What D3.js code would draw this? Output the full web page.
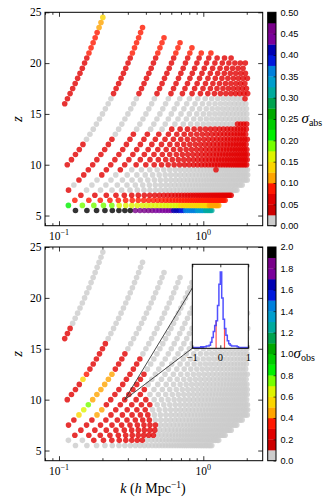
<!DOCTYPE html>
<html>
<head>
<meta charset="utf-8">
<script src="https://cdn.jsdelivr.net/npm/d3@7"></script>
<style>
  body { margin: 0; background: #fff; }
  svg { display: block; }
</style>
</head>
<body>
<div id="chart"></div>
<script>
// redshift rows of the (k, z) grid, the k spacing in each row and the first/last mode index
const zRows = [5.5, 6, 6.5, 7, 7.5, 8, 8.5, 9, 9.5, 10, 10.5, 11, 11.5, 12, 12.5, 13, 13.5,
  14, 14.5, 15, 15.5, 16, 16.5, 17, 17.5, 18, 18.5, 19, 19.5, 20, 20.5, 21, 21.5, 22, 22.5,
  23, 23.5, 24, 24.5];
const kStep = [0.02602, 0.02905, 0.0322, 0.03545, 0.03881, 0.04227, 0.04584, 0.04949, 0.05324,
  0.05708, 0.06101, 0.06503, 0.06913, 0.07331, 0.07758, 0.08192, 0.08635, 0.09085, 0.09542,
  0.10007, 0.1048, 0.1096, 0.11447, 0.11941, 0.12441, 0.12949, 0.13463, 0.13984, 0.14512,
  0.15046, 0.15586, 0.16133, 0.16686, 0.17245, 0.1781, 0.18382, 0.18959, 0.19542, 0.20131];
const nFirst = [5, 4, 4, 4, 3, 3, 3, 3, 3, 2, 2, 2, 2, 2, 2, 2, 2, 2, 2, 2, 2,
  1, 1, 1, 1, 1, 1, 1, 1, 1, 1, 1, 1, 1, 1, 1, 1, 1, 1];
const nLast = [44, 44, 44, 44, 44, 44, 44, 41, 38, 35, 33, 31, 29, 27, 26, 24, 23, 22, 21, 20, 19,
  18, 17, 17, 16, 15, 15, 14, 13, 13, 10, 7, 5, 4, 3, 2, 2, 1, 1];

// colour bin of each point, as [bin, count] runs from nFirst (missing = bin 0)
const sigmaAbsRuns = [
  [[19, 8], [18, 5], [17, 6], [16, 3], [15, 2], [14, 6], [13, 5], [12, 5]],
  [[8, 1], [7, 4], [6, 15], [5, 14], [4, 7]],
  [[3, 41]],
  [[2, 41]],
  [[2, 1]],
  [],
  [[2, 1]],
  [[2, 2]],
  [[2, 3], [0, 17], [2, 1]],
  [[2, 99]], [[2, 99]], [[2, 99]], [[2, 99]], [[2, 99]],
  [[0, 1], [2, 99]],
  [[0, 2], [2, 99]],
  [[0, 5], [2, 99]],
  [[0, 17], [2, 99]],
  [], [], [],
  [[2, 1]],
  [[2, 1], [0, 15], [2, 1]],
  [[2, 99]], [[2, 99]], [[2, 99]], [[2, 99]], [[2, 99]], [[2, 99]], [[2, 99]], [[2, 99]],
  [[3, 99]], [[3, 99]], [[3, 99]], [[3, 99]], [[3, 99]],
  [[4, 1], [3, 1]],
  [[4, 1]],
  [[5, 1]]
];
const sigmaObsRuns = [
  [],
  [[0, 2], [2, 8]],
  [[2, 11]],
  [[2, 10]],
  [[2, 10]],
  [[2, 8]],
  [[5, 1], [4, 1], [2, 5]],
  [[6, 1], [4, 1], [2, 4]],
  [[7, 1], [2, 5]],
  [[2, 1], [4, 1], [2, 4]],
  [[2, 1], [4, 1], [2, 3]],
  [[2, 1], [4, 1], [2, 3]],
  [[2, 1], [4, 1], [2, 2]],
  [[5, 1], [4, 1], [2, 2]],
  [[3, 1], [4, 1], [2, 2]],
  [[2, 3]], [[2, 3]], [[2, 3]],
  [[2, 2]],
  [[2, 1]], [[2, 1]], [[2, 1]], [[2, 1]], [[2, 1]],
  [], [], [], [], [], [], [], [], [], [], [], [], [], [], []
];

// discrete colour map (20 bins, lowest bin grey)
const binColors = ["#cccccc", "#cd0000", "#e10000", "#ff1800", "#ffa400", "#fad500", "#ddf300",
  "#76ff00", "#00f000", "#00cd00", "#00a900", "#00a34f", "#00aa9d", "#009ecd", "#0080dd",
  "#0019dd", "#0000b2", "#7a009b", "#780089", "#000000"];
const absTicks = [0, 0.05, 0.1, 0.15, 0.2, 0.25, 0.3, 0.35, 0.4, 0.45, 0.5];
const obsTicks = [0, 0.2, 0.4, 0.6, 0.8, 1.0, 1.2, 1.4, 1.6, 1.8, 2.0];
const zTicks = [5, 10, 15, 20, 25];
const kMajor = [0.1, 1];
const kMinor = [0.08, 0.09, 0.2, 0.3, 0.4, 0.5, 0.6, 0.7, 0.8, 0.9, 2];

// inset histogram
const histEdges = [-1, -0.95, -0.9, -0.85, -0.8, -0.75, -0.7, -0.65, -0.6, -0.55, -0.5, -0.45,
  -0.4, -0.35, -0.3, -0.25, -0.2, -0.15, -0.1, -0.05, 0, 0.05, 0.1, 0.15, 0.2, 0.25, 0.3, 0.35,
  0.4, 0.45, 0.5, 0.55, 0.6, 0.65, 0.7, 0.75, 0.8, 0.85, 0.9, 0.95, 1];
const histCounts = [1, 1, 1, 1, 1, 1, 2, 1, 2, 2, 3, 3, 4, 8, 14, 22, 30, 36, 56, 84, 100, 66,
  38, 26, 17, 10, 6, 4, 3, 3, 3, 3, 2, 1, 1, 1, 1, 1, 1, 1];
const histBand = [-0.15, 0.15];
const insetRow = 9, insetN = 5; // grid point the inset refers to

(function () {
  const W = 333, H = 504;
  const left = 45, right = 262.7;
  const cbX = 267.7, cbW = 8.3;
  const serif = "'Liberation Serif', 'DejaVu Serif', serif";
  const sans = "'Liberation Sans', Arial, sans-serif";

  const svg = d3.select("#chart").append("svg").attr("width", W).attr("height", H);
  svg.append("rect").attr("width", W).attr("height", H).attr("fill", "#fff");

  const x = d3.scaleLog().domain([0.08, 2.58]).range([left, right]);

  function buildPoints(runs) {
    const pts = [];
    zRows.forEach((z, i) => {
      const bins = [];
      runs[i].forEach(([b, c]) => { for (let j = 0; j < c; j++) bins.push(b); });
      for (let n = nFirst[i]; n <= nLast[i]; n++) {
        const b = bins[n - nFirst[i]];
        pts.push({ k: n * kStep[i], z: z, bin: b === undefined ? 0 : b });
      }
    });
    return pts.sort((a, b) => (a.bin > 0) - (b.bin > 0));
  }

  function drawPanel(cfg) {
    const y = d3.scaleLinear().domain([4, 25]).range([cfg.bottom, cfg.top]);
    const g = svg.append("g");
    const clipId = "clip" + cfg.id;
    svg.append("clipPath").attr("id", clipId).append("rect")
      .attr("x", left).attr("y", cfg.top).attr("width", right - left).attr("height", cfg.bottom - cfg.top);

    g.append("g").attr("clip-path", `url(#${clipId})`)
      .selectAll("circle").data(buildPoints(cfg.runs)).join("circle")
      .attr("cx", d => x(d.k)).attr("cy", d => y(d.z)).attr("r", 2.8)
      .attr("fill", d => binColors[d.bin]).attr("fill-opacity", 0.8);

    // ticks on all four sides, pointing in
    const strip = s => s.select(".domain").remove();
    g.append("g").attr("transform", `translate(${left},0)`)
      .call(d3.axisLeft(y).tickValues(zTicks).tickSize(-4.5).tickPadding(3.5))
      .call(strip)
      .call(s => s.selectAll("text").attr("font-family", serif).attr("font-size", 11.5));
    g.append("g").attr("transform", `translate(${right},0)`)
      .call(d3.axisRight(y).tickValues(zTicks).tickSize(-4.5).tickFormat(""))
      .call(strip);
    [[cfg.bottom, d3.axisBottom], [cfg.top, d3.axisTop]].forEach(([pos, ax]) => {
      g.append("g").attr("transform", `translate(0,${pos})`)
        .call(ax(x).tickValues(kMajor).tickSize(-4.5).tickFormat("")).call(strip);
      g.append("g").attr("transform", `translate(0,${pos})`)
        .call(ax(x).tickValues(kMinor).tickSize(-2.5).tickFormat("")).call(strip);
    });
    g.selectAll(".tick line").attr("stroke", "#000").attr("stroke-width", 0.8);

    // x tick labels 10^-1, 10^0
    kMajor.forEach(v => {
      const t = g.append("text").attr("x", x(v)).attr("y", cfg.bottom + 14)
        .attr("text-anchor", "middle").attr("font-family", serif).attr("font-size", 11.5);
      t.append("tspan").text("10");
      t.append("tspan").attr("dy", -4.5).attr("font-size", 8).text(v === 1 ? "0" : "\u22121");
    });

    g.append("rect").attr("x", left).attr("y", cfg.top)
      .attr("width", right - left).attr("height", cfg.bottom - cfg.top)
      .attr("fill", "none").attr("stroke", "#000").attr("stroke-width", 1);

    g.append("text")
      .attr("transform", `translate(22,${(cfg.top + cfg.bottom) / 2}) rotate(-90)`)
      .attr("text-anchor", "middle").attr("font-family", serif).attr("font-style", "italic")
      .attr("font-size", 15).text("z");

    // colour bar
    const c = d3.scaleLinear().domain([0, cfg.cbMax]).range([cfg.bottom, cfg.top]);
    const step = cfg.cbMax / binColors.length;
    g.append("g").selectAll("rect").data(binColors).join("rect")
      .attr("x", cbX).attr("width", cbW)
      .attr("y", (d, i) => c((i + 1) * step))
      .attr("height", (d, i) => c(i * step) - c((i + 1) * step) + 0.3)
      .attr("fill", d => d);
    g.append("rect").attr("x", cbX).attr("y", cfg.top).attr("width", cbW)
      .attr("height", cfg.bottom - cfg.top).attr("fill", "none").attr("stroke", "#000").attr("stroke-width", 1);
    g.append("g").attr("transform", `translate(${cbX + cbW},0)`)
      .call(d3.axisRight(c).tickValues(cfg.cbTicks).tickSize(-2.5).tickPadding(4.5).tickFormat(d3.format(cfg.fmt)))
      .call(strip)
      .call(s => s.selectAll("text").attr("font-family", sans).attr("font-size", 9.2).attr("fill", "#000"))
      .call(s => s.selectAll("line").attr("stroke", "#000").attr("stroke-width", 0.6));

    const lab = g.append("text").attr("x", cfg.labX).attr("y", (cfg.top + cfg.bottom) / 2 + 4)
      .attr("font-family", serif).attr("font-size", 15);
    lab.append("tspan").attr("font-style", "italic").text("\u03c3");
    lab.append("tspan").attr("dy", 3).attr("font-size", 10).text(cfg.sub);

    return y;
  }

  drawPanel({ id: "a", top: 12.3, bottom: 225.7, runs: sigmaAbsRuns, cbMax: 0.5,
    cbTicks: absTicks, fmt: ".2f", labX: 301.5, sub: "abs" });
  const yB = drawPanel({ id: "b", top: 247, bottom: 460.7, runs: sigmaObsRuns, cbMax: 2,
    cbTicks: obsTicks, fmt: ".1f", labX: 293.5, sub: "obs" });

  // x label
  const xl = svg.append("text").attr("x", 153).attr("y", 493).attr("text-anchor", "middle")
    .attr("font-family", serif).attr("font-size", 14);
  xl.append("tspan").attr("font-style", "italic").text("k");
  xl.append("tspan").text(" (");
  xl.append("tspan").attr("font-style", "italic").text("h");
  xl.append("tspan").text(" Mpc");
  xl.append("tspan").attr("dy", -5).attr("font-size", 9.5).text("\u22121");
  xl.append("tspan").attr("dy", 5).text(")");

  // inset
  const ix = d3.scaleLinear().domain([-1, 1]).range([192.3, 248.3]);
  const iy = d3.scaleLinear().domain([0, 110]).range([348.3, 264.3]);
  const px = x(insetN * kStep[insetRow]), py = yB(zRows[insetRow]);
  svg.append("line").attr("x1", px).attr("y1", py).attr("x2", ix(-1)).attr("y2", iy(79))
    .attr("stroke", "#333").attr("stroke-width", 0.9);
  svg.append("line").attr("x1", px).attr("y1", py).attr("x2", ix(-1)).attr("y2", iy(0))
    .attr("stroke", "#333").attr("stroke-width", 0.9);

  const ig = svg.append("g");
  ig.append("rect").attr("x", ix(-1)).attr("y", iy(110)).attr("width", ix(1) - ix(-1))
    .attr("height", iy(0) - iy(110)).attr("fill", "#fff");
  const stepPts = histEdges.map((e, i) => [e, i < histCounts.length ? histCounts[i] : histCounts[i - 1]]);
  histBand.forEach(b => {
    const i = histEdges.findIndex(e => e >= b - 1e-9);
    ig.append("line").attr("x1", ix(b)).attr("x2", ix(b)).attr("y1", iy(0)).attr("y2", iy(histCounts[i]))
      .attr("stroke", "#ff5555").attr("stroke-width", 1.2);
  });
  ig.append("path").datum(stepPts)
    .attr("d", d3.line().curve(d3.curveStepAfter).x(d => ix(d[0])).y(d => iy(d[1])))
    .attr("fill", "none").attr("stroke", "#3333ff").attr("stroke-width", 1.5).attr("stroke-opacity", 0.85);
  ig.append("rect").attr("x", ix(-1)).attr("y", iy(110)).attr("width", ix(1) - ix(-1))
    .attr("height", iy(0) - iy(110)).attr("fill", "none").attr("stroke", "#000").attr("stroke-width", 1);
  [[iy(0), d3.axisBottom], [iy(110), d3.axisTop]].forEach(([pos, ax]) => {
    ig.append("g").attr("transform", `translate(0,${pos})`)
      .call(ax(ix).tickValues([-1, 0, 1]).tickSize(-3).tickFormat(""))
      .call(s => s.select(".domain").remove());
  });
  ig.selectAll(".tick line").attr("stroke", "#000").attr("stroke-width", 0.8);
  [-1, 0, 1].forEach(v => {
    ig.append("text").attr("x", ix(v)).attr("y", iy(0) + 13).attr("text-anchor", "middle")
      .attr("font-family", serif).attr("font-size", 10.5).text(v < 0 ? "\u22121" : String(v));
  });
})();
</script>
</body>
</html>
